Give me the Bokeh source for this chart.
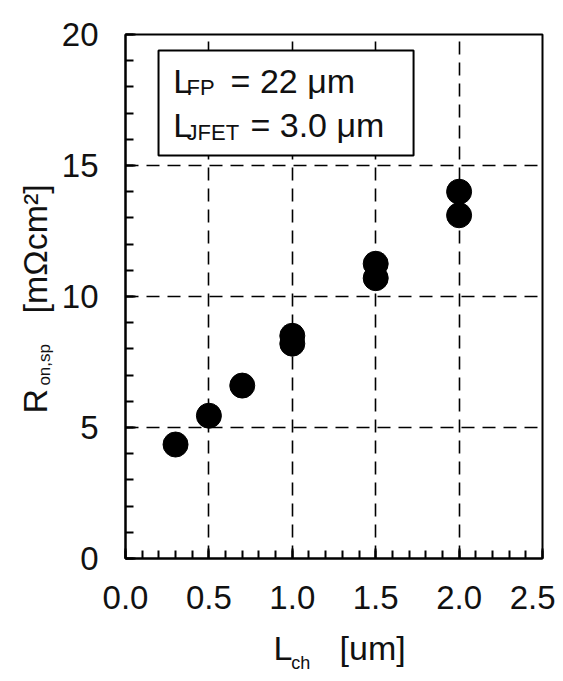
import math
from bokeh.plotting import figure
from bokeh.models import Range1d, FixedTicker, Label, BoxAnnotation, PrintfTickFormatter
from bokeh.embed import file_html
from bokeh.resources import INLINE

# ---- data ----
l_ch = [0.3, 0.5, 0.7, 1.0, 1.0, 1.5, 1.5, 2.0, 2.0]          # um
r_on_sp = [4.35, 5.45, 6.6, 8.2, 8.5, 10.7, 11.25, 13.1, 14.0]  # mOhm cm^2

x_ticks = [0.0, 0.5, 1.0, 1.5, 2.0, 2.5]
x_minor = [0.0, 0.1, 0.2, 0.3, 0.4, 0.5, 0.6, 0.7, 0.8, 0.9, 1.0, 1.1, 1.2,
           1.3, 1.4, 1.5, 1.6, 1.7, 1.8, 1.9, 2.0, 2.1, 2.2, 2.3, 2.4, 2.5]
y_ticks = [0, 5, 10, 15, 20]
y_minor = list(range(0, 21))

FONT = "Liberation Sans"
INK = "#111111"
NB = "\u00a0"

p = figure(width=555, height=673,
           x_range=Range1d(0, 2.5), y_range=Range1d(0, 20),
           output_backend="svg", toolbar_location=None,
           min_border_left=125, min_border_right=13,
           min_border_top=34, min_border_bottom=115)
p.background_fill_color = "white"
p.border_fill_color = "white"
p.outline_line_color = "black"
p.outline_line_width = 2
p.outline_line_alpha = 1.0

# axes
p.xaxis.ticker = FixedTicker(ticks=x_ticks, minor_ticks=x_minor)
p.yaxis.ticker = FixedTicker(ticks=y_ticks, minor_ticks=y_minor)
p.xaxis.formatter = PrintfTickFormatter(format="%.1f")
for ax in (p.xaxis[0], p.yaxis[0]):
    ax.axis_line_color = "black"
    ax.axis_line_width = 2
    ax.major_tick_in = 10
    ax.major_tick_out = 0
    ax.minor_tick_in = 8
    ax.minor_tick_out = 0
    ax.major_tick_line_color = "black"
    ax.major_tick_line_width = 2
    ax.minor_tick_line_color = "black"
    ax.minor_tick_line_width = 2
    ax.major_label_text_font = FONT
    ax.major_label_text_font_size = "33px"
    ax.major_label_text_color = INK
p.xaxis.major_label_standoff = 27
p.yaxis.major_label_standoff = 27

# grid
p.xgrid.ticker = FixedTicker(ticks=[0.5, 1.0, 1.5, 2.0])
p.ygrid.ticker = FixedTicker(ticks=[5, 10, 15])
for g in (p.xgrid[0], p.ygrid[0]):
    g.grid_line_color = "black"
    g.grid_line_width = 1.6
    g.grid_line_dash = "13 8"
    g.grid_line_alpha = 1.0

# data points
p.scatter(l_ch, r_on_sp, size=25, marker="circle", color="black")

# inset box with parameters
p.add_layout(BoxAnnotation(left=0.198, right=1.727, bottom=15.38, top=19.39,
                           fill_color="white", fill_alpha=1.0,
                           line_color="black", line_alpha=1.0, line_width=2,
                           level="annotation"))

def lab(x, y, text, size, angle=0.0, place=None):
    l = Label(x=x, y=y, text=text, text_font=FONT,
              text_font_size=size, text_color=INK,
              text_align="left", text_baseline="middle",
              angle=angle)
    if place is None:
        p.add_layout(l)
    else:
        p.add_layout(l, place)

# box text
lab(0.286, 18.24, "L", "34px")
lab(0.366, 17.97, "FP", "22px")
lab(0.630, 18.24, "= 22 μm", "34px")
lab(0.286, 16.53, "L", "34px")
lab(0.366, 16.25, "JFET", "22px")
lab(0.749, 16.53, "= 3.0 μm", "34px")

# x axis label
lab(0.887, -3.40, "L" + NB * 5 + "[um]", "34px", place="below")
lab(0.994, -3.97, "ch", "18px", place="above")

# y axis label (rotated)
lab(-0.544, 5.53, "R" + NB * 8 + "[mΩcm²]", "34px", math.pi / 2, place="left")
lab(-0.485, 6.60, "on,sp", "17px", math.pi / 2, place="left")

open("out.html", "w").write(file_html(p, INLINE))
